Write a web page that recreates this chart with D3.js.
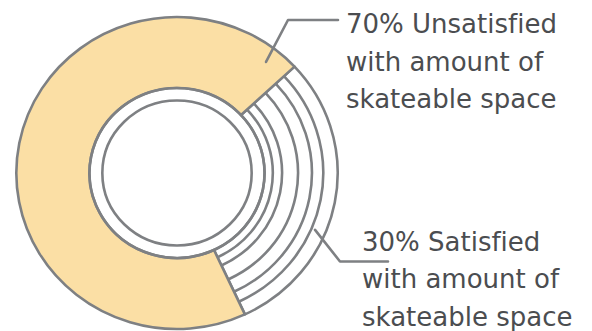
<!DOCTYPE html>
<html>
<head>
<meta charset="utf-8">
<script src="https://cdn.jsdelivr.net/npm/d3@7"></script>
<style>
  html, body { margin: 0; padding: 0; background: #fff; }
  svg { display: block; }
  text { font-family: "DejaVu Sans", sans-serif; fill: #4b4d50; font-variant-ligatures: none; }
</style>
</head>
<body>
<svg id="chart" width="592" height="331"></svg>
<script>
// Survey answers: share of skaters satisfied with the amount of skateable space
const categories = ["Satisfied", "Unsatisfied"];
const values = [30, 70];
const subLines = ["with amount of", "skateable space"];

const W = 592, H = 331;
const cx = 177, cy = 173, sx = 1.03;
const rCore = 72.5, rInner = 85, rOuter = 156;
const hatchRadii = [93, 102, 117.5, 131, 142];
const gray = "#7e8083";

const svg = d3.select("#chart");
const g = svg.append("g").attr("transform", `translate(${cx},${cy}) scale(${sx},1)`);

// satisfied slice centred a little below 3 o'clock
const satSpan = values[0] / d3.sum(values) * 2 * Math.PI;
const mid = 101 * Math.PI / 180;
const pie = d3.pie().sort(null).value(d => d)
  .startAngle(mid - satSpan / 2).endAngle(mid - satSpan / 2 + 2 * Math.PI);
const arcs = pie(values);

const arc = d3.arc().innerRadius(rInner).outerRadius(rOuter);
const fills = ["#ffffff", "#fbdfa5"];

g.selectAll("path.slice").data(arcs).join("path")
  .attr("class", "slice")
  .attr("d", arc)
  .attr("fill", (d, i) => fills[i])
  .attr("stroke", gray)
  .attr("stroke-width", 2.6)
  .attr("stroke-linejoin", "round")
  .attr("vector-effect", "non-scaling-stroke");

// concentric hatch arcs inside the satisfied slice
const sat = arcs[0];
g.selectAll("path.hatch").data(hatchRadii).join("path")
  .attr("class", "hatch")
  .attr("d", r => d3.arc()({innerRadius: r, outerRadius: r, startAngle: sat.startAngle, endAngle: sat.endAngle}))
  .attr("fill", "none")
  .attr("stroke", gray)
  .attr("stroke-width", 2.6)
  .attr("vector-effect", "non-scaling-stroke");

// inner rings
g.selectAll("circle.ring").data([rCore, rInner]).join("circle")
  .attr("class", "ring")
  .attr("r", d => d)
  .attr("fill", "none")
  .attr("stroke", gray)
  .attr("stroke-width", 2.6)
  .attr("vector-effect", "non-scaling-stroke");

// leader lines and labels
const toXY = (ang, r) => [cx + sx * r * Math.sin(ang), cy - r * Math.cos(ang)];
const labels = [
  {i: 0, ang: 113 * Math.PI / 180, r: 145.6, elbow: [340, 261.5], end: 388, tx: 362, ty: 251, lh: 37.3},
  {i: 1, ang: 37.9 * Math.PI / 180, r: 140.7, elbow: [288, 20], end: 338, tx: 346, ty: 33.3, lh: 37.3}
];

labels.forEach(L => {
  const p0 = toXY(L.ang, L.r);
  svg.append("path")
    .attr("d", d3.line()([p0, L.elbow, [L.end, L.elbow[1]]]))
    .attr("fill", "none")
    .attr("stroke", gray)
    .attr("stroke-width", 2.6)
    .attr("stroke-linecap", "round")
    .attr("stroke-linejoin", "round");
  const lines = [`${values[L.i]}% ${categories[L.i]}`, ...subLines];
  svg.append("text")
    .attr("x", L.tx).attr("y", L.ty)
    .attr("font-size", 26)
    .selectAll("tspan").data(lines).join("tspan")
    .attr("x", L.tx)
    .attr("dy", (d, j) => j === 0 ? 0 : L.lh)
    .text(d => d);
});
</script>
</body>
</html>
